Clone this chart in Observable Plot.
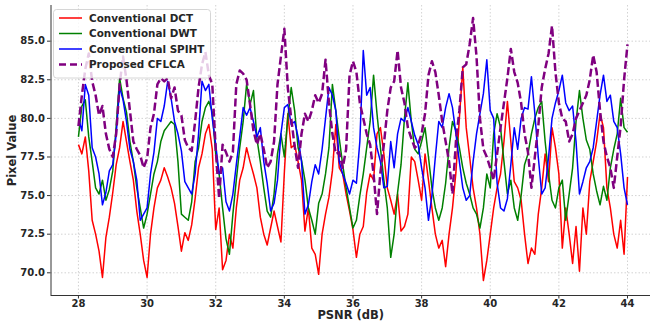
<!DOCTYPE html>
<html><head><meta charset="utf-8">
<script src="https://cdn.jsdelivr.net/npm/d3@7"></script>
<script src="https://cdn.jsdelivr.net/npm/@observablehq/plot@0.6"></script>
<style>body{margin:0;background:#fff}#chart{width:650px;height:322px}</style>
</head><body><div id="chart"></div>
<script>
const psnrStart = 28, psnrStep = 0.1;
const dct = [
78.3,77.7,78.8,76.6,73.4,72.5,71.4,69.7,72.3,73.6,
75.2,77.0,78.1,79.8,78.5,77.2,76.0,74.0,72.5,70.8,
69.7,72.5,74.2,75.5,76.0,76.8,76.2,75.5,74.5,73.0,
71.4,72.6,72.1,73.1,74.8,76.8,77.7,79.0,79.6,78.0,
72.8,74.2,70.2,70.8,72.5,71.6,74.2,76.0,76.8,78.1,
77.2,76.4,75.5,73.6,72.5,71.8,72.9,74.0,73.0,72.0,
76.5,80.3,78.1,78.3,77.2,76.0,72.7,74.2,71.6,71.2,
69.9,72.5,73.8,74.9,76.6,79.6,76.8,76.4,75.1,74.0,
72.8,71.0,72.5,73.0,75.2,76.4,76.0,79.0,79.4,77.7,
75.5,74.7,73.8,75.1,72.7,73.0,73.8,77.5,77.2,76.0,
74.7,77.7,76.0,74.2,72.5,71.6,72.1,70.4,72.5,74.2,
76.5,80.0,83.3,79.4,77.5,75.5,74.2,72.5,69.5,70.8,
72.5,74.2,75.5,76.4,78.5,81.1,78.5,75.9,75.5,74.7,
72.5,70.6,71.6,71.2,73.8,75.5,77.7,75.9,79.4,78.1,
76.4,71.6,74.2,72.5,70.6,73.0,70.1,74.2,72.5,75.9,
77.2,78.5,80.3,79.4,75.5,74.2,72.5,71.6,73.4,71.2,
76.2];
const dwt = [
78.8,80.8,81.2,78.8,77.2,75.5,75.1,76.0,74.7,75.4,
76.6,79.5,82.6,81.3,80.4,78.5,77.2,75.5,74.2,72.9,
73.8,75.1,76.4,77.2,78.5,79.2,79.5,79.8,79.6,77.2,
73.8,73.6,73.4,74.6,77.2,78.1,79.8,80.7,81.1,80.4,
77.7,76.4,74.2,72.2,71.2,73.8,76.0,78.1,79.8,82.2,
80.9,81.8,78.7,77.2,75.5,74.0,73.6,75.1,77.7,79.0,
77.5,80.0,82.0,80.5,78.1,77.3,76.0,74.2,73.4,72.5,
74.5,75.1,76.4,78.1,82.2,80.5,78.7,77.0,75.5,74.2,
72.9,73.4,75.0,76.4,78.1,79.8,82.8,80.3,78.1,76.0,
74.2,71.0,72.5,75.2,77.0,80.0,82.3,79.8,78.0,77.7,
78.5,79.4,77.5,75.5,74.2,73.4,74.2,75.8,78.1,79.8,
79.2,78.1,76.8,75.8,75.1,74.2,73.8,72.9,74.2,76.4,
75.5,79.0,80.3,79.4,77.2,75.1,76.0,74.2,73.4,75.0,
77.0,77.7,79.0,80.0,80.7,81.1,78.5,76.4,74.7,74.2,
75.5,76.0,73.4,75.1,76.8,79.8,81.8,80.0,78.6,78.0,
76.4,75.3,74.4,75.6,74.7,76.8,78.0,79.0,81.3,79.4,
79.1];
const spiht = [
80.0,79.2,82.2,81.5,78.1,77.5,76.4,74.4,75.2,76.6,
77.0,79.0,82.0,81.2,79.8,78.0,77.2,76.0,73.4,73.8,
74.2,76.4,77.8,80.0,79.8,80.8,82.4,81.3,79.8,79.0,
77.9,75.9,75.5,75.1,76.4,79.0,82.4,81.8,82.2,80.0,
78.3,76.4,76.8,74.6,74.0,75.1,77.0,78.8,80.7,80.2,
80.7,79.8,78.8,79.4,77.2,75.8,74.0,74.5,76.0,79.0,
80.7,80.9,79.6,79.8,78.8,77.2,73.8,74.4,75.9,77.0,
76.4,78.0,80.0,82.0,81.5,80.5,77.2,76.4,75.8,75.1,
76.0,75.8,78.5,84.4,81.5,82.0,79.4,78.1,77.2,75.5,
75.6,78.5,76.8,79.0,80.0,79.8,80.7,79.8,78.9,78.3,
76.8,75.5,73.4,75.0,77.5,79.8,79.4,80.7,81.6,80.7,
79.0,77.2,75.5,74.7,75.0,77.2,79.0,80.3,81.6,83.8,
80.5,80.0,75.8,74.2,74.0,74.8,77.0,79.4,78.0,80.0,
80.7,80.6,82.7,80.3,77.5,75.1,75.5,77.5,80.0,81.0,
81.8,82.8,81.0,80.5,80.8,78.5,75.1,75.9,76.8,77.2,
78.1,79.8,81.5,82.8,81.1,81.5,79.8,79.4,77.7,75.5,
74.4];
const cflca = [
79.5,81.5,83.2,84.2,82.4,81.5,80.2,80.8,79.0,78.0,
77.5,79.0,82.2,84.0,82.5,80.5,78.5,78.0,77.6,76.8,
77.4,79.4,80.3,82.2,82.6,82.4,82.6,81.3,82.0,80.5,
80.2,78.6,78.1,77.9,79.8,82.0,83.5,84.3,82.8,82.2,
78.0,74.8,78.3,77.8,77.2,77.8,82.2,83.1,82.9,82.5,
80.9,79.2,78.3,79.0,78.0,76.8,77.2,78.5,82.2,84.0,
85.8,82.0,80.0,78.2,76.8,79.0,80.3,79.8,80.5,81.5,
81.0,81.6,83.8,81.0,79.0,77.7,77.8,76.8,78.0,82.8,
83.7,83.0,81.0,80.0,79.0,78.3,76.4,73.8,76.5,78.3,
80.5,82.0,82.4,84.4,82.0,81.0,79.4,78.7,78.1,78.3,
79.0,80.3,82.8,83.7,83.0,81.5,79.8,78.5,77.2,75.1,
78.5,80.5,83.3,83.5,84.8,86.5,84.0,80.0,78.0,77.5,
76.8,76.0,77.7,79.4,81.0,82.6,84.5,83.0,82.3,81.0,
79.0,77.8,75.5,77.5,79.5,82.0,83.2,84.2,86.0,83.0,
81.0,80.0,79.8,78.5,79.0,80.0,80.5,81.0,81.5,82.5,
84.1,83.0,80.5,78.5,77.5,76.8,75.5,77.5,79.5,82.5,
84.8];
const seriesNames = ["Conventional DCT", "Conventional DWT", "Conventional SPIHT", "Proposed CFLCA"];
const seriesColors = ["red", "green", "blue", "purple"];
const xTicks = [28, 30, 32, 34, 36, 38, 40, 42, 44];
const yTicks = [70, 72.5, 75, 77.5, 80, 82.5, 85];
const xLabel = "PSNR (dB)";
const yLabel = "Pixel Value";

const psnr = dct.map((_, i) => +(psnrStart + i * psnrStep).toFixed(1));
const toRows = (vals, name) => vals.map((v, i) => ({x: psnr[i], y: v, s: name}));
const seriesData = [dct, dwt, spiht, cflca].map((v, k) => toRows(v, seriesNames[k]));

const xDom = [27.2, 44.67], yDom = [68.53, 87.31];
const font = "'DejaVu Sans', sans-serif";

const lineMarks = seriesData.map((rows, k) => Plot.line(rows, {
  x: "x", y: "y", stroke: seriesColors[k],
  strokeWidth: k === 3 ? 2.5 : 1.5,
  strokeDasharray: k === 3 ? "8,3.5" : null,
  strokeLinejoin: "round", strokeLinecap: "butt"
}));

const chart = Plot.plot({
  width: 650, height: 322,
  marginLeft: 50.5, marginRight: 0, marginTop: 5, marginBottom: 27,
  style: {fontFamily: font, fontSize: "10px", fontWeight: "bold", color: "#262626", background: "white", overflow: "visible"},
  x: {domain: xDom},
  y: {domain: yDom},
  marks: [
    Plot.gridX(xTicks, {stroke: "#c8c8c8", strokeOpacity: 1, strokeWidth: 0.8, strokeDasharray: "1.5,2"}),
    Plot.gridY(yTicks, {stroke: "#c8c8c8", strokeOpacity: 1, strokeWidth: 0.8, strokeDasharray: "1.5,2"}),
    Plot.axisX(xTicks, {tickSize: 3.5, tickPadding: 1, label: null, tickFormat: d => String(d), stroke: "#333"}),
    Plot.axisY(yTicks, {tickSize: 3.5, tickPadding: 2.5, label: null, tickFormat: d3.format(".1f"), stroke: "#333"}),
    ...lineMarks,
    Plot.ruleX([xDom[0]], {stroke: "#333", strokeWidth: 1}),
    Plot.ruleY([yDom[0]], {stroke: "#333", strokeWidth: 1}),
    Plot.text([xLabel], {frameAnchor: "bottom", lineAnchor: "middle", dy: 19.5, fontSize: 11.5, fontWeight: "bold", fill: "#262626", textAnchor: "middle"}),
    Plot.text([yLabel], {frameAnchor: "left", dx: -38.5, rotate: -90, fontSize: 11.5, fontWeight: "bold", fill: "#262626", textAnchor: "middle"})
  ]
});

// legend (pixel layout, not data)
const svg = d3.select(chart);
const lg = svg.append("g").attr("font-family", font).attr("font-weight", "bold")
  .attr("font-size", 10.4).attr("text-anchor", "start");
lg.append("rect").attr("x", 53.5).attr("y", 9.5).attr("width", 157).attr("height", 68.5)
  .attr("rx", 3).attr("fill", "white").attr("fill-opacity", 0.8).attr("stroke", "#cccccc").attr("stroke-width", 0.8);
const rowY = [18, 33.5, 49, 64.5];
seriesNames.forEach((name, k) => {
  lg.append("line").attr("x1", 59).attr("x2", 82).attr("y1", rowY[k]).attr("y2", rowY[k])
    .attr("stroke", seriesColors[k]).attr("stroke-width", k === 3 ? 2.5 : 1.5)
    .attr("stroke-dasharray", k === 3 ? "7,4" : null);
  lg.append("text").attr("x", 89).attr("y", rowY[k]).attr("dy", "0.36em")
    .attr("text-anchor", "start").attr("fill", "#262626").text(name);
});

document.getElementById("chart").appendChild(chart);
</script>
</body></html>
